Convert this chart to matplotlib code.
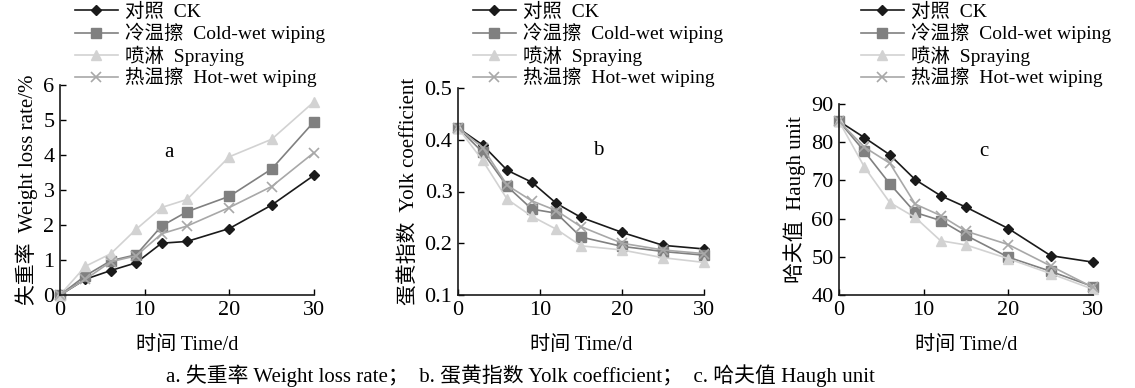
import numpy as np
import matplotlib
matplotlib.use("Agg")
from matplotlib import pyplot as plt

plt.rcParams['font.family'] = ['Liberation Serif', 'Noto Sans CJK SC', 'DejaVu Sans']

days = [0, 3, 6, 9, 12, 15, 20, 25, 30]
labels = ["对照  CK", "冷温擦  Cold-wet wiping", "喷淋  Spraying", "热温擦  Hot-wet wiping"]

# a: weight loss rate /%
wl_ck = [0, 0.45, 0.70, 0.92, 1.48, 1.53, 1.90, 2.57, 3.42]
wl_cold = [0, 0.55, 0.98, 1.15, 1.97, 2.38, 2.82, 3.60, 4.95]
wl_spray = [0, 0.82, 1.18, 1.88, 2.50, 2.73, 3.95, 4.45, 5.52]
wl_hot = [0, 0.45, 0.95, 1.12, 1.75, 1.97, 2.50, 3.10, 4.07]

# b: yolk coefficient
yc_ck = [0.423, 0.390, 0.341, 0.318, 0.277, 0.250, 0.221, 0.196, 0.189]
yc_cold = [0.423, 0.376, 0.310, 0.266, 0.258, 0.212, 0.194, 0.184, 0.177]
yc_spray = [0.423, 0.360, 0.285, 0.252, 0.227, 0.195, 0.187, 0.172, 0.163]
yc_hot = [0.423, 0.385, 0.312, 0.282, 0.263, 0.232, 0.200, 0.187, 0.180]

# c: Haugh unit
hu_ck = [85.5, 81.2, 76.7, 70.2, 66.0, 63.0, 57.4, 50.3, 48.6]
hu_cold = [85.5, 77.6, 69.1, 61.6, 59.5, 55.6, 49.9, 46.2, 42.2]
hu_spray = [85.5, 73.5, 64.2, 60.3, 54.2, 53.1, 49.5, 45.6, 41.5]
hu_hot = [85.5, 78.7, 74.5, 63.8, 60.8, 56.7, 53.2, 47.6, 42.0]

styles = [
    dict(color="#1a1a1a", marker="D", ms=5),
    dict(color="#808080", marker="s", ms=7),
    dict(color="#d2d2d2", marker="^", ms=7),
    dict(color="#a8a8a8", marker="x", ms=7, mew=1.2),
]

fig = plt.figure(figsize=(11.35, 3.88), dpi=100)
W, H = 1135, 388

panels = [
    dict(box=(60, 85, 314, 295), data=[wl_ck, wl_cold, wl_spray, wl_hot],
         ylim=(0, 6), yticks=[0, 1, 2, 3, 4, 5, 6], yfmt="{:g}",
         ylabel="失重率  Weight loss rate/%", tag="a", tagpos=(0.43, 0.68),
         leg=(75, 3)),
    dict(box=(458, 88, 704, 295), data=[yc_ck, yc_cold, yc_spray, yc_hot],
         ylim=(0.1, 0.5), yticks=[0.1, 0.2, 0.3, 0.4, 0.5], yfmt="{:.1f}",
         ylabel="蛋黄指数  Yolk coefficient", tag="b", tagpos=(0.57, 0.70),
         leg=(473, 3)),
    dict(box=(839, 104, 1093, 295), data=[hu_ck, hu_cold, hu_spray, hu_hot],
         ylim=(40, 90), yticks=[40, 50, 60, 70, 80, 90], yfmt="{:g}",
         ylabel="哈夫值  Haugh unit", tag="c", tagpos=(0.57, 0.75),
         leg=(861, 3)),
]

for p in panels:
    x0, y0, x1, y1 = p["box"]
    ax = fig.add_axes([x0 / W, 1 - y1 / H, (x1 - x0) / W, (y1 - y0) / H])
    for series, lab, st in zip(p["data"], labels, styles):
        ax.plot(days, series, lw=1.2, label=lab, clip_on=False, **st)
    ax.set_xlim(0, 30)
    ax.set_ylim(*p["ylim"])
    ax.set_xticks([0, 10, 20, 30])
    ax.set_yticks(p["yticks"])
    ax.set_yticklabels([p["yfmt"].format(v) for v in p["yticks"]])
    for s in ["top", "right"]:
        ax.spines[s].set_visible(False)
    for s in ["left", "bottom"]:
        ax.spines[s].set_linewidth(1.2)
        ax.spines[s].set_color("#1a1a1a")
    ax.tick_params(direction="in", length=4, width=1, labelsize=16, pad=4)
    ax.set_xlabel("时间 Time/d", fontsize=14.5, labelpad=12)
    ax.set_ylabel(p["ylabel"], fontsize=15, labelpad=4)
    ax.text(p["tagpos"][0], p["tagpos"][1], p["tag"], transform=ax.transAxes,
            fontsize=15, ha="center", va="center")
    lx, ly = p["leg"]
    ax.legend(loc="upper left", bbox_to_anchor=(lx / W, 1 - ly / H),
              bbox_transform=fig.transFigure, frameon=False, fontsize=14,
              handlelength=2.2, handletextpad=0.35, labelspacing=0.1,
              borderpad=0, borderaxespad=0)

fig.text(520 / W, 1 - 376 / H, "a. 失重率 Weight loss rate；  b. 蛋黄指数 Yolk coefficient；  c. 哈夫值 Haugh unit",
         ha="center", va="center", fontsize=15)

fig.savefig("out.png", dpi=100)
